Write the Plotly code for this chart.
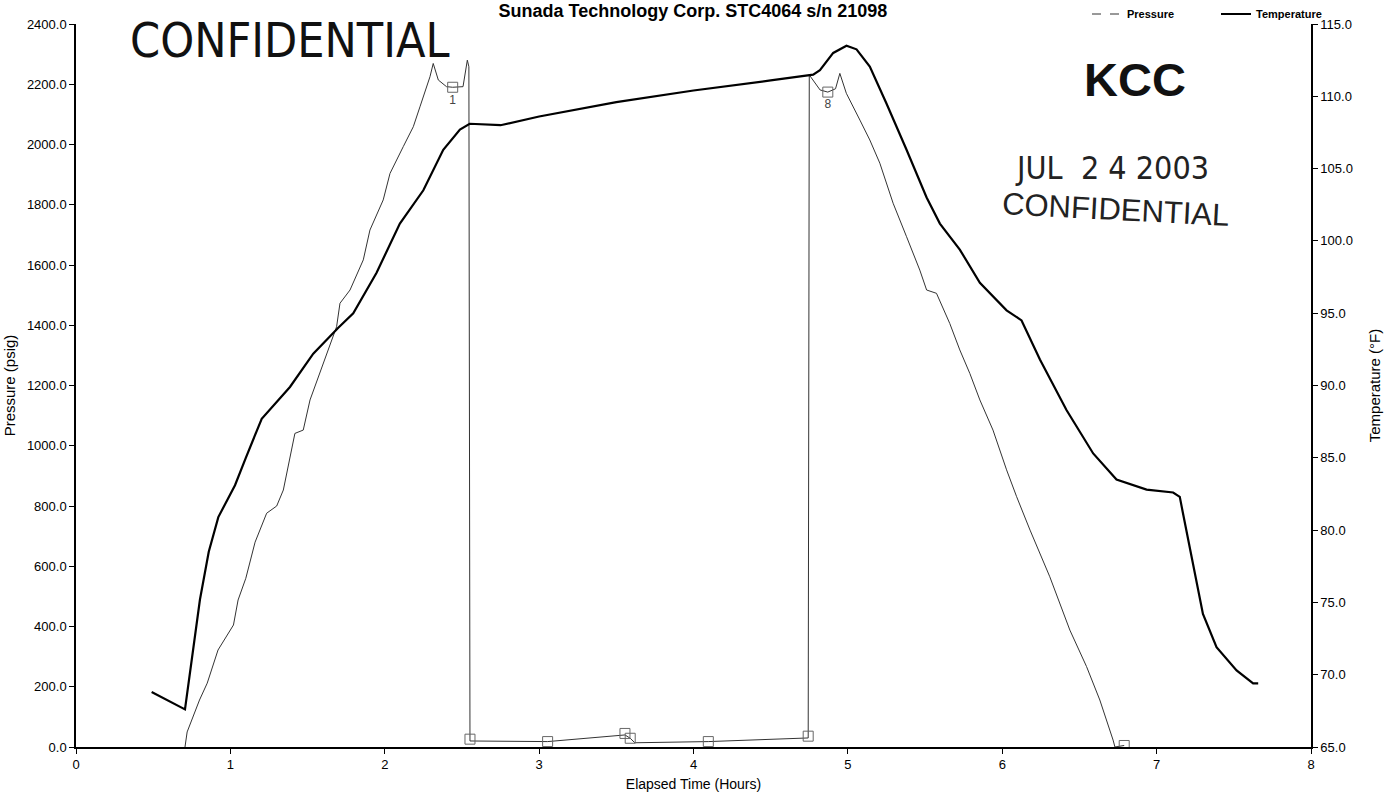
import plotly.graph_objects as go

# ---------------- data ----------------
temp_t = [0.49, 0.706, 0.803, 0.86, 0.922, 1.03, 1.10, 1.203, 1.386, 1.537, 1.699, 1.796, 1.947,
          2.098, 2.25, 2.379, 2.487, 2.55, 2.75, 3.0, 3.5, 4.0, 4.5, 4.689, 4.775, 4.819, 4.905,
          4.991, 5.056, 5.142, 5.25, 5.38, 5.51, 5.596, 5.725, 5.855, 6.028, 6.125, 6.244, 6.416,
          6.589, 6.74, 6.935, 7.107, 7.15, 7.17, 7.237, 7.30, 7.388, 7.518, 7.625, 7.658]
temp_f = [68.8, 67.6, 75.2, 78.5, 80.9, 83.1, 85.0, 87.7, 89.9, 92.2, 94.0, 95.0, 97.8,
          101.2, 103.5, 106.3, 107.7, 108.1, 108.0, 108.6, 109.6, 110.4, 111.1, 111.35, 111.5, 111.8, 113.0,
          113.5, 113.25, 112.05, 109.5, 106.3, 103.0, 101.2, 99.4, 97.1, 95.2, 94.5, 91.8, 88.3,
          85.3, 83.5, 82.8, 82.6, 82.3, 81.2, 77.5, 74.2, 71.9, 70.3, 69.4, 69.4]

pres_t = [0.706, 0.72, 0.80, 0.85, 0.92, 0.985, 1.02, 1.05, 1.10, 1.16, 1.235, 1.30, 1.343, 1.418,
          1.472, 1.516, 1.58, 1.645, 1.688, 1.71, 1.775, 1.861, 1.904, 1.99, 2.034, 2.12, 2.185,
          2.228, 2.25, 2.293, 2.314, 2.347, 2.40, 2.44, 2.507, 2.535, 2.545, 2.552, 3.055, 3.556,
          3.59, 3.62, 4.096, 4.743, 4.75, 4.786, 4.82, 4.87, 4.92, 4.948, 4.99, 5.078, 5.142, 5.207,
          5.293, 5.38, 5.466, 5.51, 5.574, 5.66, 5.725, 5.79, 5.855, 5.94, 6.028, 6.093, 6.18,
          6.308, 6.438, 6.546, 6.632, 6.718, 6.73, 6.79]
pres_psig = [0, 50, 156, 212, 322, 378, 405, 488, 560, 680, 776, 800, 853, 1041,
             1052, 1152, 1240, 1329, 1395, 1473, 1517, 1617, 1716, 1816, 1904, 1993, 2059,
             2125, 2159, 2225, 2269, 2214, 2192, 2190, 2192, 2280, 2258, 20, 18, 40,
             29, 14, 18, 30, 2231, 2203, 2181, 2174, 2185, 2236, 2170, 2081, 2015, 1938,
             1805, 1694, 1583, 1517, 1506, 1406, 1318, 1240, 1152, 1052, 920, 831, 720,
             565, 388, 267, 156, 23, 0, 5]

mark_t = [2.44, 2.552, 3.055, 3.556, 3.59, 4.096, 4.743, 4.87, 6.79]
mark_p = [2190, 26, 18, 45, 29, 18, 36, 2174, 5]
mark_label = ["1", "", "", "", "", "", "", "8", ""]

x_ticks = [0, 1, 2, 3, 4, 5, 6, 7, 8]
p_ticks = [0, 200, 400, 600, 800, 1000, 1200, 1400, 1600, 1800, 2000, 2200, 2400]
t_ticks = [65, 70, 75, 80, 85, 90, 95, 100, 105, 110, 115]

FONT = "Liberation Sans, Arial, sans-serif"
COND = "DejaVu Sans Condensed, sans-serif"

W, H = 1386, 794
L, R, T, B = 76, 75, 24, 47
PW, PH = W - L - R, H - T - B


def px(xp):  # window pixel -> paper x
    return (xp - L) / PW


def py(yp):  # window pixel -> paper y
    return (H - B - yp) / PH


fig = go.Figure()
fig.add_trace(go.Scatter(x=pres_t, y=pres_psig, mode="lines", name="Pressure", showlegend=False,
                         line=dict(color="#333333", width=1), yaxis="y"))
# legend-only sample for the pressure line style
fig.add_trace(go.Scatter(x=[None], y=[None], mode="lines", name="Pressure",
                         line=dict(color="#333333", width=1, dash="dash"), yaxis="y"))
fig.add_trace(go.Scatter(x=temp_t, y=temp_f, mode="lines", name="Temperature",
                         line=dict(color="black", width=2.2), yaxis="y2"))
fig.add_trace(go.Scatter(x=mark_t, y=mark_p, mode="markers+text", text=mark_label,
                         textposition="bottom center", showlegend=False,
                         textfont=dict(size=12, color="#444444", family=FONT),
                         marker=dict(symbol="square-open", size=10, color="#666666",
                                     line=dict(width=1)), yaxis="y"))

axis_common = dict(showgrid=False, zeroline=False, showline=True, linecolor="black",
                   linewidth=1.5, ticks="outside", ticklen=5, tickcolor="black",
                   automargin=False,
                   tickfont=dict(size=13, family=FONT, color="black"))

fig.update_layout(
    width=W, height=H,
    margin=dict(l=L, r=R, t=T, b=B, autoexpand=False),
    paper_bgcolor="white", plot_bgcolor="white",
    font=dict(family=FONT, color="black"),
    title=dict(text="<b>Sunada Technology Corp. STC4064 s/n 21098</b>",
               x=0.5, xanchor="center", y=1 - 11 / H, yanchor="middle",
               font=dict(size=18, family=FONT)),
    xaxis=dict(range=[0, 8], tickvals=x_ticks, ticktext=[str(v) for v in x_ticks],
               title=dict(text="Elapsed Time (Hours)", font=dict(size=14), standoff=8),
               **axis_common),
    yaxis=dict(range=[0, 2400], tickvals=p_ticks, ticktext=[f"{v:.1f}" for v in p_ticks],
               title=dict(text="Pressure (psig)", font=dict(size=15), standoff=8),
               **axis_common),
    yaxis2=dict(range=[65, 115], tickvals=t_ticks, ticktext=[f"{v:.1f}" for v in t_ticks],
                overlaying="y", side="right",
                title=dict(text="Temperature (°F)", font=dict(size=15), standoff=18),
                **axis_common),
    legend=dict(orientation="h", x=px(1087), xanchor="left", y=py(14), yanchor="middle",
                font=dict(size=11, family=FONT, weight="bold"), bgcolor="rgba(0,0,0,0)",
                itemwidth=30, entrywidth=84, entrywidthmode="pixels"),
    showlegend=True,
)

# stamps
fig.add_annotation(text="CONFIDENTIAL", xref="paper", yref="paper", xanchor="center", yanchor="middle",
                   x=px(290), y=py(40), showarrow=False,
                   font=dict(size=48, family=COND, color="#111111"))
fig.add_annotation(text="KCC", xref="paper", yref="paper", xanchor="center", yanchor="middle",
                   x=px(1135), y=py(80), showarrow=False,
                   font=dict(size=47, family=FONT, color="#111111", weight="bold"))
fig.add_annotation(text="JUL  2 4 2003", xref="paper", yref="paper", xanchor="center", yanchor="middle",
                   x=px(1112), y=py(168), showarrow=False,
                   font=dict(size=32, family=COND, color="#222222"))
fig.add_annotation(text="CONFIDENTIAL", xref="paper", yref="paper", xanchor="center", yanchor="middle",
                   x=px(1115), y=py(210), showarrow=False, textangle=3,
                   font=dict(size=31, family=FONT, color="#222222"))

# the page's default 8px body margin would shift the whole figure; remove it
fig.write_html("out.html", config={"displayModeBar": False},
               post_script="document.body.style.margin='0';")
